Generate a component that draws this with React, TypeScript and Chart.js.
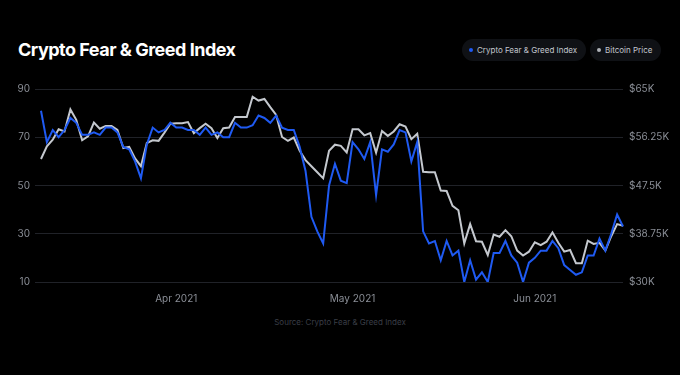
import React, { useEffect, useRef } from "react";
import { Chart, registerables } from "chart.js";

Chart.register(...registerables);

// ---- data ----
const startDate = "2021-03-09";
const dayCount = 100;

const fearGreed = [
  81, 68, 73, 70, 73, 78, 76, 71, 71, 72,
  71, 74, 74, 72, 66, 65, 60, 53, 67, 74,
  72, 73, 76, 74, 74, 73, 73, 71, 74, 71,
  72, 70, 70, 76, 74, 74, 75, 79, 78, 76,
  79, 74, 73, 73, 66, 56, 37, 31, 26, 50,
  59, 52, 51, 68, 65, 61, 68, 46, 65, 64,
  67, 73, 72, 60, 68, 31, 26, 27, 19, 27,
  21, 23, 10, 19, 11, 14, 10, 22, 22, 27,
  21, 18, 10, 18, 20, 23, 23, 27, 24, 17,
  15, 13, 14, 21, 21, 28, 23, 30, 38, 33,
];

const bitcoinPrice = [
  52300, 54600, 55800, 57700, 57300, 61300, 59400, 55700, 56400, 58900,
  57800, 58300, 58300, 57600, 54300, 54500, 52400, 51000, 55200, 55700,
  55600, 57100, 58700, 58800, 58800, 59000, 57000, 57900, 58700, 57900,
  56100, 57900, 58000, 59900, 59900, 59900, 63600, 62900, 63200, 61700,
  60300, 56300, 55600, 56200, 53800, 52100, 51000, 49900, 48800, 53800,
  54900, 54700, 53500, 57700, 57700, 56600, 57000, 53450, 57400, 56500,
  57300, 58600, 58200, 55900, 56900, 50000, 49900, 49900, 46600, 46500,
  43800, 43000, 37000, 40500, 37400, 37300, 34900, 38600, 38200, 39400,
  38300, 35700, 34800, 35500, 37200, 36700, 37300, 39000, 37100, 35500,
  35800, 33400, 33400, 37500, 36900, 37100, 35700, 38300, 40500, 40200,
];

const leftTicks = [10, 30, 50, 70, 90];
const rightTicks = [30000, 38750, 47500, 56250, 65000];
const monthNames = ["Jan", "Feb", "Mar", "Apr", "May", "Jun", "Jul", "Aug", "Sep", "Oct", "Nov", "Dec"];

const seriesNames = ["Crypto Fear & Greed Index", "Bitcoin Price"];
const seriesColors = ["#1f5af2", "#c4c8ce"];

function buildDates(): string[] {
  const out: string[] = [];
  const d0 = new Date(startDate + "T00:00:00Z");
  for (let i = 0; i < dayCount; i++) {
    const d = new Date(d0.getTime() + i * 86400000);
    out.push(d.toISOString().slice(0, 10));
  }
  return out;
}

const FONT = "Inter, 'Noto Sans', sans-serif";
const TICK_COLOR = "#8a8e96";

export default function App() {
  const ref = useRef<HTMLCanvasElement>(null);

  useEffect(() => {
    const labels = buildDates();
    Chart.defaults.font.family = FONT;
    const chart = new Chart(ref.current!, {
      type: "line",
      data: {
        labels,
        datasets: [
          {
            label: seriesNames[0],
            data: fearGreed,
            borderColor: seriesColors[0],
            backgroundColor: seriesColors[0],
            borderWidth: 2,
            pointRadius: 0,
            tension: 0,
            yAxisID: "y",
          },
          {
            label: seriesNames[1],
            data: bitcoinPrice,
            borderColor: seriesColors[1],
            backgroundColor: seriesColors[1],
            borderWidth: 2,
            pointRadius: 0,
            tension: 0,
            yAxisID: "y1",
          },
        ],
      },
      options: {
        animation: false,
        responsive: false,
        maintainAspectRatio: false,
        layout: { padding: { top: 89, left: 0, right: 0, bottom: 0 } },
        plugins: {
          legend: { display: false },
          tooltip: { enabled: false },
        },
        scales: {
          x: {
            type: "category",
            offset: false,
            grid: { display: false, drawTicks: false },
            border: { display: false },
            ticks: {
              autoSkip: false,
              maxRotation: 0,
              minRotation: 0,
              padding: 11,
              color: TICK_COLOR,
              font: { size: 10, family: FONT },
              callback: function (this: any, value: any) {
                const lab = this.getLabelForValue(value) as string;
                if (lab && lab.slice(8, 10) === "01") {
                  const m = parseInt(lab.slice(5, 7), 10) - 1;
                  return monthNames[m] + " " + lab.slice(0, 4);
                }
                return null as any;
              },
            },
            afterFit: (s: any) => {
              s.height = 28;
            },
          },
          y: {
            position: "left",
            min: 10,
            max: 90,
            afterBuildTicks: (s: any) => {
              s.ticks = leftTicks.map((value) => ({ value }));
            },
            grid: { color: "#202228", lineWidth: 1, drawTicks: true, tickLength: 6 },
            border: { display: false },
            ticks: {
              padding: 5,
              color: TICK_COLOR,
              font: { size: 10, family: FONT },
            },
            afterFit: (s: any) => {
              s.width = 41;
            },
          },
          y1: {
            position: "right",
            min: 30000,
            max: 65000,
            afterBuildTicks: (s: any) => {
              s.ticks = rightTicks.map((value) => ({ value }));
            },
            grid: { display: false, drawTicks: false },
            border: { display: false },
            ticks: {
              padding: 6,
              color: TICK_COLOR,
              font: { size: 10, family: FONT },
              callback: (v: any) => "$" + Number(v) / 1000 + "K",
            },
            afterFit: (s: any) => {
              s.width = 57;
            },
          },
        },
      },
    });
    return () => chart.destroy();
  }, []);

  const pill: React.CSSProperties = {
    position: "absolute",
    top: 39,
    height: 22,
    borderRadius: 11,
    background: "#0f1115",
    display: "flex",
    alignItems: "center",
    padding: "0 9px 0 7px",
    boxSizing: "border-box",
    fontFamily: FONT,
    fontSize: 8,
    color: "#c3c7ce",
    whiteSpace: "nowrap",
  };
  const dot = (c: string): React.CSSProperties => ({
    width: 4,
    height: 4,
    borderRadius: 2,
    background: c,
    marginRight: 4,
    flex: "none",
  });

  return (
    <div style={{ position: "fixed", left: 0, top: 0, width: 680, height: 375, background: "#000", overflow: "hidden" }}>
      <div
        style={{
          position: "absolute",
          left: 18,
          top: 38,
          fontFamily: FONT,
          fontWeight: 700,
          fontSize: 18,
          letterSpacing: -0.5,
          color: "#ffffff",
          whiteSpace: "nowrap",
          lineHeight: "24px",
        }}
      >
        Crypto Fear &amp; Greed Index
      </div>
      <div style={{ ...pill, left: 462 }}>
        <span style={dot(seriesColors[0])} />
        {seriesNames[0]}
      </div>
      <div style={{ ...pill, left: 590 }}>
        <span style={dot("#aeb2b8")} />
        {seriesNames[1]}
      </div>
      <canvas
        ref={ref}
        width={680}
        height={310}
        style={{ position: "absolute", left: 0, top: 0, width: 680, height: 310, display: "block" }}
      />
      <div
        style={{
          position: "absolute",
          left: 0,
          width: 680,
          top: 317,
          textAlign: "center",
          fontFamily: FONT,
          fontSize: 8,
          color: "#3a3e47",
          whiteSpace: "nowrap",
        }}
      >
        Source: Crypto Fear &amp; Greed Index
      </div>
    </div>
  );
}
